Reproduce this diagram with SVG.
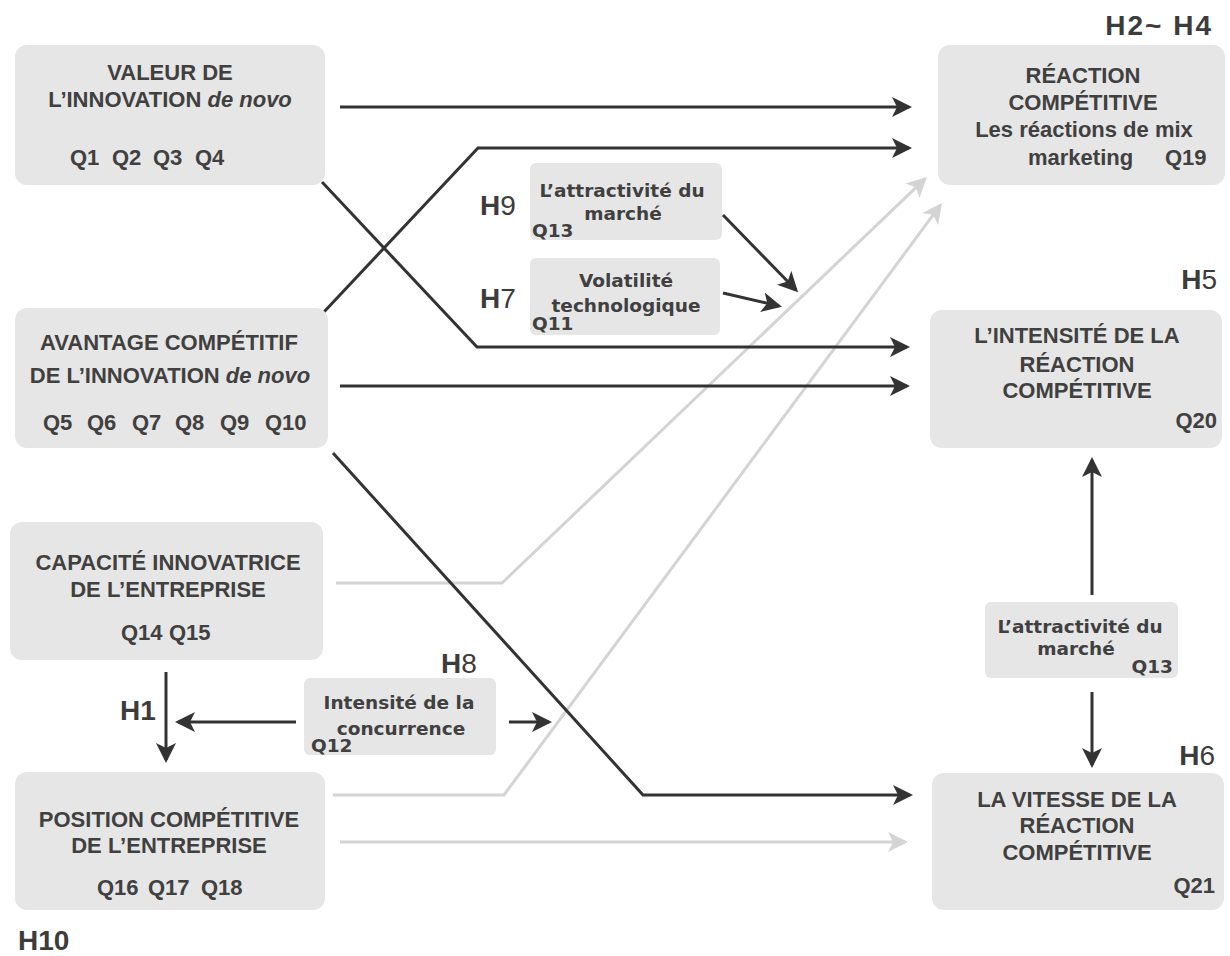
<svg xmlns="http://www.w3.org/2000/svg" width="1230" height="956" viewBox="0 0 1230 956">
<style>
.box{fill:#e6e6e6}
.sbox{fill:#e6e6e6}
.t{font-family:"Liberation Sans",Arial,sans-serif;font-weight:bold;font-size:22px;fill:#404040}
.s{font-family:"DejaVu Sans",sans-serif;font-weight:bold;font-size:18.5px;fill:#404040}
.h{font-family:"Liberation Sans",Arial,sans-serif;font-weight:bold;font-size:28px;fill:#3c3c3c}
.hn{font-weight:normal}
.m{text-anchor:middle}
.e{text-anchor:end}
.dk{fill:none;stroke:#333;stroke-width:3;marker-end:url(#ad)}
.gr{fill:none;stroke:#d4d4d4;stroke-width:3;marker-end:url(#ag)}
</style>
<defs>
<marker id="ad" markerUnits="userSpaceOnUse" viewBox="0 -11 22 22" refX="17" refY="0" markerWidth="22" markerHeight="22" orient="auto">
<path d="M0,-10 L20,0 L0,10 L5,0 Z" fill="#333"/>
</marker>
<marker id="ag" markerUnits="userSpaceOnUse" viewBox="0 -11 22 22" refX="17" refY="0" markerWidth="22" markerHeight="22" orient="auto">
<path d="M0,-10 L20,0 L0,10 L5,0 Z" fill="#d4d4d4"/>
</marker>
</defs>
<rect width="1230" height="956" fill="#fff"/>

<g id="connectors">
<path class="gr" d="M336,583 H502 L924.8,179.1"/>
<path class="gr" d="M333,795 H504 L940.2,205.4"/>
<path class="gr" d="M340,842 H905"/>
<path class="dk" d="M340,107 H909"/>
<path class="dk" d="M323,313 L478,148 H909"/>
<path class="dk" d="M322,182 L477,347 H907"/>
<path class="dk" d="M340,386 H907"/>
<path class="dk" d="M333,453 L643,795 H910"/>
<path class="dk" d="M723,215 L796,290"/>
<path class="dk" d="M723,293 L779,306"/>
<path class="dk" d="M509,722 H549"/>
<path class="dk" d="M296,722 H178"/>
<path class="dk" d="M166,672 V760"/>
<path class="dk" d="M1092,595 V460"/>
<path class="dk" d="M1092,692 V765"/>
</g>

<g id="valeur">
<rect class="box" x="15" y="45" width="310" height="140" rx="12"/>
<text class="t m" x="170" y="80">VALEUR DE</text>
<text class="t m" x="170" y="107">L’INNOVATION <tspan font-style="italic">de novo</tspan></text>
<text class="t" y="165"><tspan x="70">Q1</tspan><tspan x="112">Q2</tspan><tspan x="153">Q3</tspan><tspan x="195">Q4</tspan></text>
</g>

<g id="avantage">
<rect class="box" x="15" y="308" width="313" height="140" rx="12"/>
<text class="t m" x="169" y="350">AVANTAGE COMPÉTITIF</text>
<text class="t m" x="170" y="383">DE L’INNOVATION <tspan font-style="italic">de novo</tspan></text>
<text class="t" y="430"><tspan x="43">Q5</tspan><tspan x="87">Q6</tspan><tspan x="132">Q7</tspan><tspan x="175">Q8</tspan><tspan x="220">Q9</tspan><tspan x="265">Q10</tspan></text>
</g>

<g id="capacite">
<rect class="box" x="10" y="522" width="313" height="138" rx="12"/>
<text class="t m" x="168" y="570">CAPACITÉ INNOVATRICE</text>
<text class="t m" x="168" y="597">DE L’ENTREPRISE</text>
<text class="t" y="640"><tspan x="121">Q14</tspan><tspan x="169">Q15</tspan></text>
</g>

<g id="position">
<rect class="box" x="15" y="772" width="310" height="138" rx="12"/>
<text class="t m" x="169" y="827">POSITION COMPÉTITIVE</text>
<text class="t m" x="169" y="853">DE L’ENTREPRISE</text>
<text class="t" y="895"><tspan x="97">Q16</tspan><tspan x="148">Q17</tspan><tspan x="201">Q18</tspan></text>
</g>

<g id="reaction">
<rect class="box" x="938" y="45" width="287" height="140" rx="12"/>
<text class="t m" x="1083" y="83">RÉACTION</text>
<text class="t m" x="1083" y="110">COMPÉTITIVE</text>
<text class="t m" x="1084" y="137">Les réactions de mix</text>
<text class="t" x="1028" y="165">marketing</text>
<text class="t" x="1165" y="165">Q19</text>
</g>

<g id="intensite">
<rect class="box" x="930" y="310" width="292" height="138" rx="12"/>
<text class="t m" x="1077" y="343">L’INTENSITÉ DE LA</text>
<text class="t m" x="1077" y="372">RÉACTION</text>
<text class="t m" x="1077" y="398">COMPÉTITIVE</text>
<text class="t e" x="1217" y="428">Q20</text>
</g>

<g id="vitesse">
<rect class="box" x="932" y="773" width="292" height="137" rx="12"/>
<text class="t m" x="1077" y="807">LA VITESSE DE LA</text>
<text class="t m" x="1077" y="833">RÉACTION</text>
<text class="t m" x="1077" y="860">COMPÉTITIVE</text>
<text class="t e" x="1215" y="893">Q21</text>
</g>

<g id="attractivite1">
<rect class="sbox" x="530" y="163" width="192" height="77" rx="6"/>
<text class="s m" x="622" y="197">L’attractivité du</text>
<text class="s m" x="623" y="220">marché</text>
<text class="s" x="532" y="237">Q13</text>
</g>

<g id="volatilite">
<rect class="sbox" x="530" y="258" width="190" height="77" rx="6"/>
<text class="s m" x="626" y="287">Volatilité</text>
<text class="s m" x="626" y="312">technologique</text>
<text class="s" x="532" y="330">Q11</text>
</g>

<g id="concurrence">
<rect class="sbox" x="304" y="678" width="192" height="77" rx="6"/>
<text class="s m" x="399" y="709">Intensité de la</text>
<text class="s m" x="401" y="735">concurrence</text>
<text class="s" x="311" y="752">Q12</text>
</g>

<g id="attractivite2">
<rect class="sbox" x="985" y="602" width="193" height="76" rx="6"/>
<text class="s m" x="1080" y="633">L’attractivité du</text>
<text class="s m" x="1076" y="655">marché</text>
<text class="s e" x="1173" y="673">Q13</text>
</g>

<g id="labels">
<text class="h e" x="1213" y="35" letter-spacing="2">H2~ H4</text>
<text class="h e" x="1217" y="289">H<tspan class="hn">5</tspan></text>
<text class="h e" x="1215" y="765">H<tspan class="hn">6</tspan></text>
<text class="h" x="480" y="215">H<tspan class="hn">9</tspan></text>
<text class="h" x="480" y="308">H<tspan class="hn">7</tspan></text>
<text class="h" x="441" y="673">H<tspan class="hn">8</tspan></text>
<text class="h" x="120" y="720">H1</text>
<text class="h" x="18" y="950">H10</text>
</g>
</svg>
